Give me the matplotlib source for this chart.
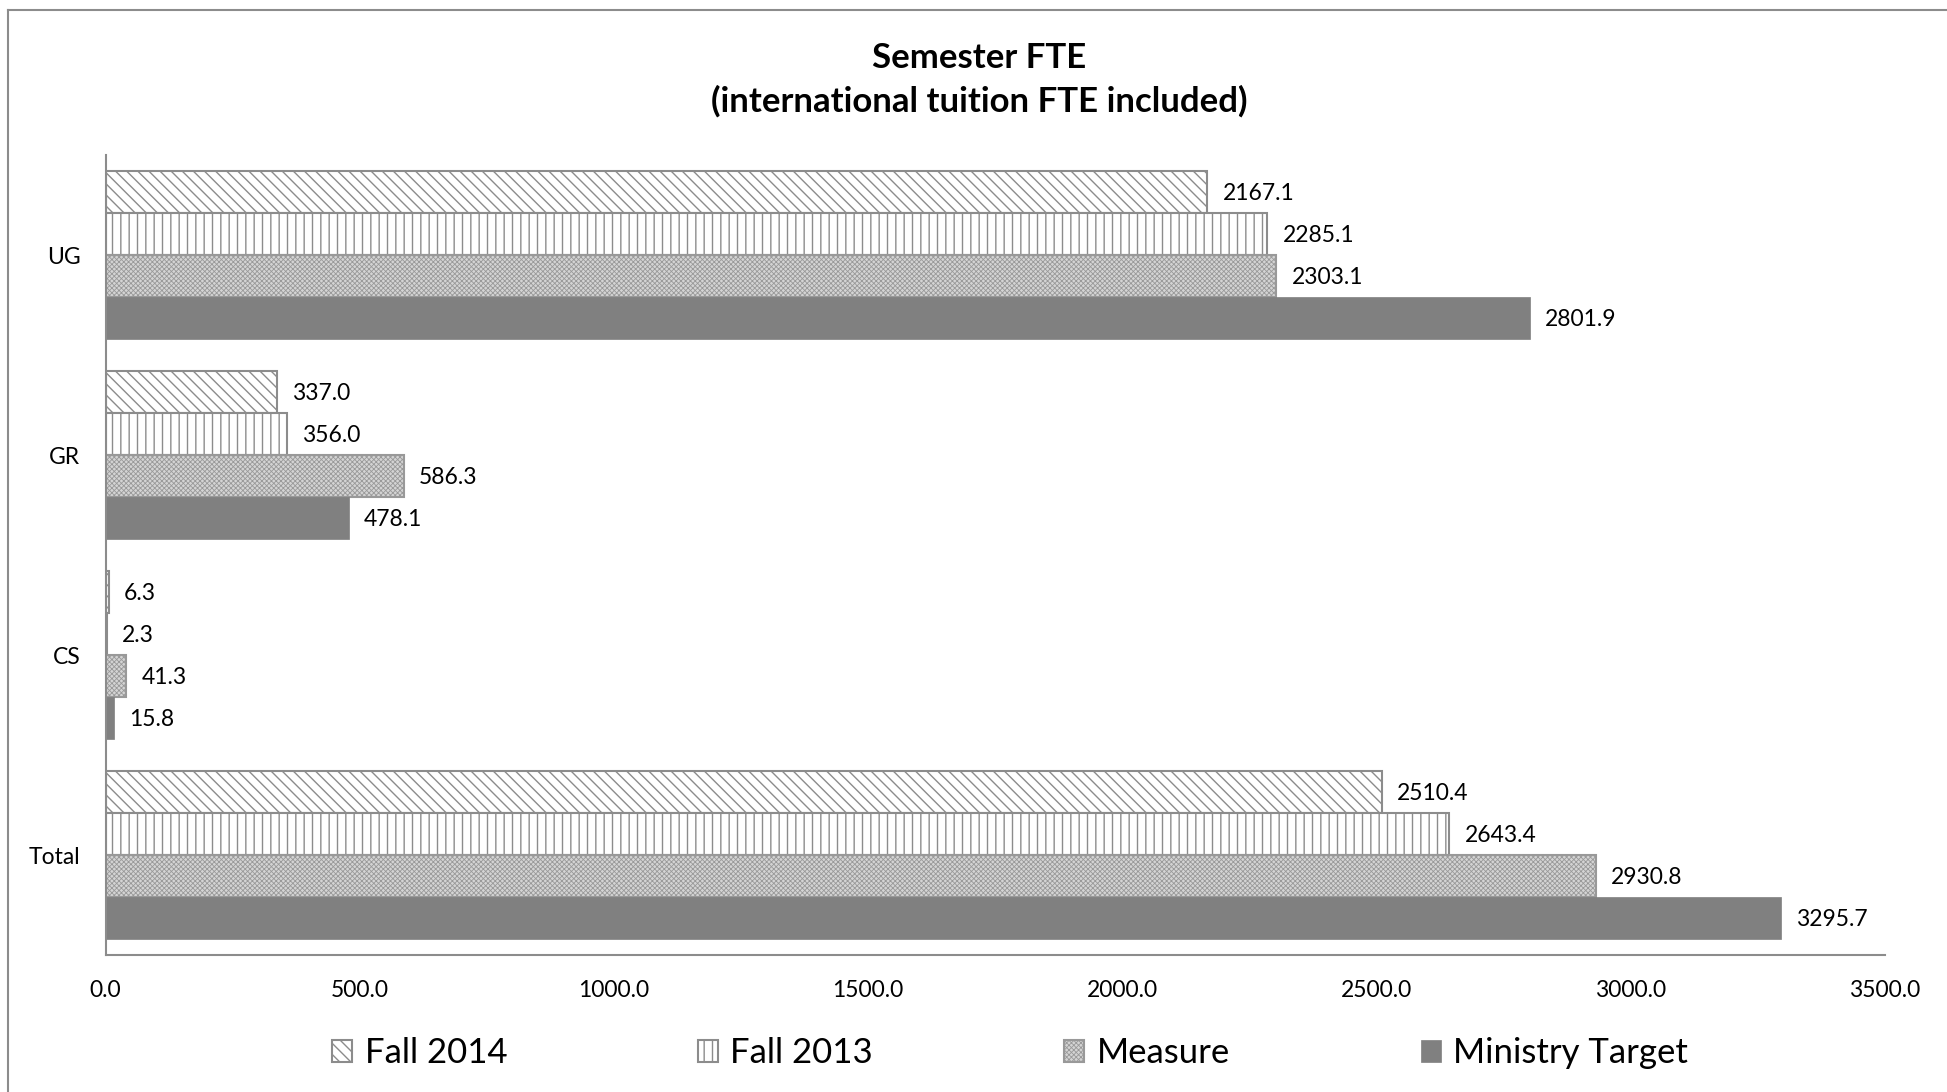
import matplotlib.pyplot as plt
from matplotlib.lines import Line2D
import numpy as np

plt.rcParams['font.family'] = ['Lato', 'DejaVu Sans']
plt.rcParams['hatch.linewidth'] = 1.0

categories = ['UG', 'GR', 'CS', 'Total']
fall_2014 = [2167.1, 337.0, 6.3, 2510.4]
fall_2013 = [2285.1, 356.0, 2.3, 2643.4]
measure = [2303.1, 586.3, 41.3, 2930.8]
ministry_target = [2801.9, 478.1, 15.8, 3295.7]
series_names = ['Fall 2014', 'Fall 2013', 'Measure', 'Ministry Target']
x_ticks = [0, 500, 1000, 1500, 2000, 2500, 3000, 3500]

W, H = 1947, 1092
fig = plt.figure(figsize=(W / 100, H / 100), dpi=100)
ax = fig.add_axes([105.5 / W, 1 - 955 / H, (1885 - 105.5) / W, (955 - 155) / H])

edge = '#8c8c8c'
styles = [
    dict(facecolor='white', edgecolor=edge, hatch='\\\\\\', linewidth=1.5),
    dict(facecolor='white', edgecolor=edge, hatch='||', linewidth=1.5),
    dict(facecolor='#d4d4d4', edgecolor='#999999', hatch='xxxxxxx', linewidth=1.5),
    dict(facecolor='#808080', edgecolor='#808080', linewidth=0.5),
]
data = [fall_2014, fall_2013, measure, ministry_target]

y = np.arange(len(categories))
h = 0.211
for i, (vals, st, name) in enumerate(zip(data, styles, series_names)):
    pos = y + (i - 1.5) * h
    bars = ax.barh(pos, vals, height=h, label=name, **st)
    if i == 2:
        for b in bars:
            if hasattr(b, 'set_hatch_linewidth'):
                b.set_hatch_linewidth(0.6)
    for b, v in zip(bars, vals):
        ax.annotate(f'{v:.1f}', (v, b.get_y() + b.get_height() / 2),
                    xytext=(11, -1), textcoords='offset points',
                    va='center', ha='left', fontsize=16.5, color='black')

ax.set_ylim(3.5, -0.5)
ax.set_xlim(0, 3500)
ax.set_yticks(y)
ax.set_yticklabels(categories, fontsize=16.5)
ax.set_xticks(x_ticks)
ax.set_xticklabels([f'{t:.1f}' for t in x_ticks], fontsize=16.5)
ax.tick_params(axis='both', length=0, pad=18)
for s in ['top', 'right']:
    ax.spines[s].set_visible(False)
for s in ['left', 'bottom']:
    ax.spines[s].set_color('#8c8c8c')
    ax.spines[s].set_linewidth(1.5)

fig.text(979 / W, 1 - 58 / H, 'Semester FTE', ha='center', va='center',
         fontsize=25, fontweight='bold')
fig.text(979 / W, 1 - 101 / H, '(international tuition FTE included)',
         ha='center', va='center', fontsize=25, fontweight='bold')

leg = fig.legend(loc='center', bbox_to_anchor=(1010 / W, 1 - 1053 / H), ncol=4,
                 frameon=False, fontsize=25, handlelength=0.58, handleheight=0.58,
                 handletextpad=0.35, columnspacing=5.5)
for p in leg.get_patches():
    if hasattr(p, 'set_hatch_linewidth') and p.get_hatch() == 'xxxxxxx':
        p.set_hatch_linewidth(0.6)

# chart frame (top and left edges visible)
fig.add_artist(Line2D([8 / W, 1], [1 - 10 / H, 1 - 10 / H], color='#8c8c8c', lw=1.5))
fig.add_artist(Line2D([8 / W, 8 / W], [0, 1 - 10 / H], color='#8c8c8c', lw=1.5))

fig.savefig('out.png', dpi=100)
